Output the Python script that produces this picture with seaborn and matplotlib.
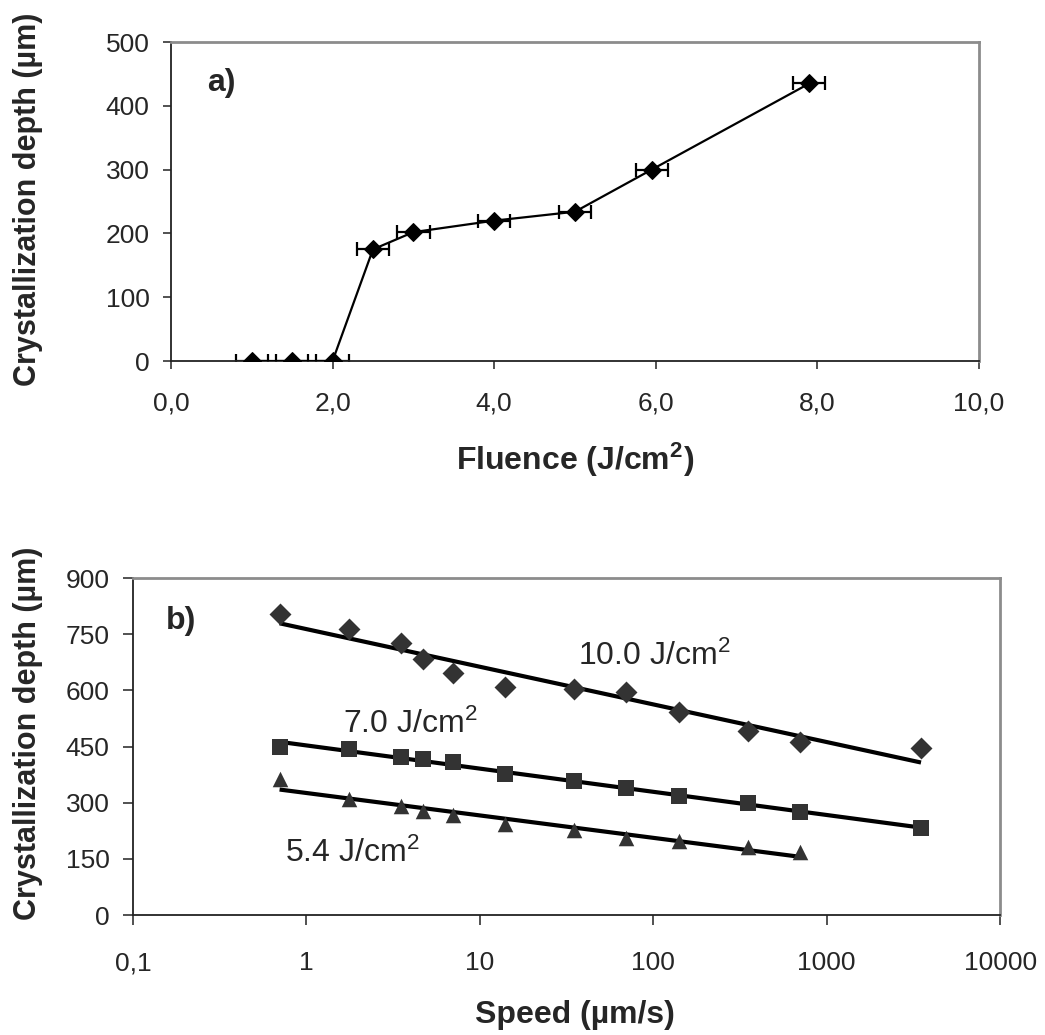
import numpy as np
import pandas as pd
import matplotlib
matplotlib.use("Agg")
import matplotlib.pyplot as plt
from matplotlib.ticker import FixedLocator, FuncFormatter, NullLocator
import seaborn as sns

# (a) crystallization depth vs laser fluence
fluence = [1.0, 1.5, 2.0, 2.5, 3.0, 4.0, 5.0, 5.95, 7.9]
depth_a = [0, 0, 0, 175, 202, 220, 234, 300, 435]
fluence_err = [0.2, 0.2, 0.2, 0.2, 0.2, 0.2, 0.2, 0.2, 0.2]

# (b) crystallization depth vs scan speed for three fluences
speed = [0.7, 1.75, 3.5, 4.67, 7, 14, 35, 70, 140, 350, 700, 3500]
depth_10 = [805, 764, 727, 683, 647, 608, 605, 596, 542, 492, 463, 446]
depth_7 = [448, 444, 423, 416, 408, 378, 359, 338, 318, 298, 274, 232]
depth_54 = [362, 310, 290, 278, 268, 243, 228, 207, 197, 183, 168]

sns.set_style("white")
plt.rcParams["font.family"] = ["Liberation Sans", "DejaVu Sans"]
plt.rcParams["mathtext.fontset"] = "custom"
plt.rcParams["mathtext.rm"] = "Liberation Sans"
plt.rcParams["mathtext.bf"] = "Liberation Sans:bold"
plt.rcParams["mathtext.default"] = "regular"

fig = plt.figure(figsize=(10.45, 10.35), dpi=100)
ax_a = fig.add_axes([0.1636, 0.6512, 0.7732, 0.3082])
ax_b = fig.add_axes([0.1273, 0.1159, 0.8297, 0.3256])

def style_frame(ax):
    for side in ("top", "right"):
        ax.spines[side].set_color("#8c8c8c")
        ax.spines[side].set_linewidth(2.0)
    for side in ("left", "bottom"):
        ax.spines[side].set_color("#222222")
        ax.spines[side].set_linewidth(1.3)
    ax.grid(False)

# ---- panel a ----
df_a = pd.DataFrame({"fluence": fluence, "depth": depth_a})
ax_a.errorbar(fluence, depth_a, xerr=fluence_err, fmt="none", ecolor="black",
              elinewidth=1.6, capsize=5, capthick=1.6, zorder=2)
sns.lineplot(data=df_a, x="fluence", y="depth", ax=ax_a, color="black",
             linewidth=1.6, marker="D", markersize=9.5, markeredgecolor="black",
             markerfacecolor="black", zorder=3)
ax_a.set_xlim(0, 10)
ax_a.set_ylim(0, 500)
ax_a.xaxis.set_major_locator(FixedLocator([0, 2, 4, 6, 8, 10]))
ax_a.xaxis.set_major_formatter(FuncFormatter(lambda v, p: f"{v:.1f}".replace(".", ",")))
ax_a.yaxis.set_major_locator(FixedLocator([0, 100, 200, 300, 400, 500]))
ax_a.tick_params(axis="both", direction="out", length=5.5, width=1.1,
                 color="#222222", labelsize=19, left=True, bottom=True)
ax_a.tick_params(axis="y", pad=10)
ax_a.tick_params(axis="x", pad=16.5)
style_frame(ax_a)
ax_a.set_xlabel("Fluence (J/cm$^{2}$)", fontsize=23, fontweight="bold")
ax_a.set_ylabel("Crystallization depth (\u00b5m)", fontsize=22, fontweight="bold")
ax_a.xaxis.set_label_coords(0.5, -0.25)
ax_a.yaxis.set_label_coords(-0.158, 0.508)
ax_a.text(0.045, 0.846, "a)", transform=ax_a.transAxes, fontsize=23,
          fontweight="bold", ha="left", va="baseline")

# ---- panel b ----
series = [
    (depth_10, speed, "D"),
    (depth_7, speed, "s"),
    (depth_54, speed[:len(depth_54)], "^"),
]
for depth, spd, mk in series:
    df = pd.DataFrame({"speed": spd, "depth": depth})
    sns.scatterplot(data=df, x="speed", y="depth", ax=ax_b, marker=mk,
                    s=125, color="#333333", edgecolor="#333333",
                    linewidth=0, zorder=3)
ax_b.set_xscale("log")
for depth, spd, mk in series:
    df = pd.DataFrame({"speed": spd, "depth": depth})
    sns.regplot(data=df, x="speed", y="depth", ax=ax_b, logx=True, ci=None,
                scatter=False, truncate=True,
                line_kws={"color": "black", "linewidth": 3.0,
                          "solid_capstyle": "butt", "zorder": 2})
ax_b.set_xlim(0.1, 10000)
ax_b.set_ylim(0, 900)
ax_b.xaxis.set_major_locator(FixedLocator([0.1, 1, 10, 100, 1000, 10000]))
ax_b.xaxis.set_minor_locator(NullLocator())
ax_b.xaxis.set_major_formatter(FuncFormatter(
    lambda v, p: "0,1" if v < 1 else f"{int(round(v))}"))
ax_b.yaxis.set_major_locator(FixedLocator([0, 150, 300, 450, 600, 750, 900]))
ax_b.tick_params(axis="both", direction="out", length=7, width=1.1,
                 color="#222222", labelsize=19, left=True, bottom=True)
ax_b.tick_params(axis="y", pad=10)
ax_b.tick_params(axis="x", pad=19)
style_frame(ax_b)
ax_b.set_xlabel("Speed (\u00b5m/s)", fontsize=23, fontweight="bold")
ax_b.set_ylabel("Crystallization depth (\u00b5m)", fontsize=22, fontweight="bold")
ax_b.xaxis.set_label_coords(0.51, -0.252)
ax_b.yaxis.set_label_coords(-0.104, 0.54)
ax_b.text(0.038, 0.85, "b)", transform=ax_b.transAxes, fontsize=23,
          fontweight="bold", ha="left", va="baseline")

ax_b.text(36.8, 668, "10.0 J/cm$^{2}$", fontsize=23, ha="left", va="baseline")
ax_b.text(1.63, 486, "7.0 J/cm$^{2}$", fontsize=23, ha="left", va="baseline")
ax_b.text(0.75, 141, "5.4 J/cm$^{2}$", fontsize=23, ha="left", va="baseline")

fig.savefig("out.png", dpi=100, facecolor="white")
